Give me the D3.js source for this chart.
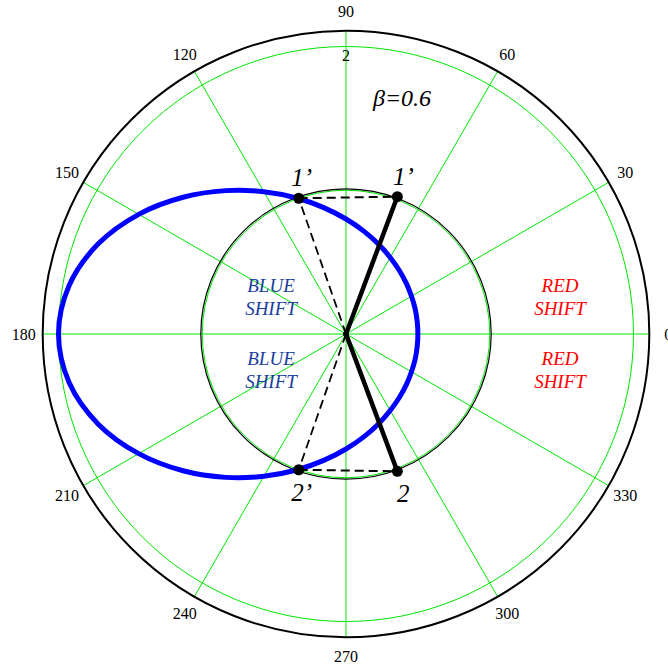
<!DOCTYPE html>
<html>
<head>
<meta charset="utf-8">
<script src="https://cdn.jsdelivr.net/npm/d3@7"></script>
<style>
  html, body { margin: 0; padding: 0; background: #fff; }
  svg { display: block; }
  text { font-family: "Liberation Serif", "Times New Roman", serif; }
</style>
</head>
<body>
<svg id="chart" width="668" height="672"></svg>
<script>
// Polar grid
const angleTicks = [0, 30, 60, 90, 120, 150, 180, 210, 240, 270, 300, 330];
const gridRadii = [1, 2];
const radialTickLabels = [2];
const outerRadius = 2.11;

// Blue emission curve: radius sampled every 10 degrees (0..350)
const curveAngles = [0, 10, 20, 30, 40, 50, 60, 70, 80, 90, 100, 110, 120, 130, 140, 150, 160, 170,
                     180, 190, 200, 210, 220, 230, 240, 250, 260, 270, 280, 290, 300, 310, 320, 330, 340, 350];
const curveRadii  = [0.500, 0.503, 0.512, 0.526, 0.548, 0.577, 0.615, 0.664, 0.725, 0.800, 0.893, 1.007,
                     1.143, 1.302, 1.480, 1.665, 1.834, 1.955, 2.000, 1.955, 1.834, 1.665, 1.480, 1.302,
                     1.143, 1.007, 0.893, 0.800, 0.725, 0.664, 0.615, 0.577, 0.548, 0.526, 0.512, 0.503];

// Rest-frame directions (solid) and their aberrated counterparts (dashed)
const restPoints = [{ label: "1’", angle: 69.5, r: 1.02 }, { label: "2", angle: 290.5, r: 1.02 }];
const primePoints = [{ label: "2’", angle: 250.8, r: 1 }, { label: "1’", angle: 109.2, r: 1 }];

const betaLabel = "β=0.6";
const shiftLabels = [
  { lines: ["BLUE", "SHIFT"], color: "#1a3d9e", side: -1, pos: -1 },
  { lines: ["BLUE", "SHIFT"], color: "#1a3d9e", side: -1, pos: 1 },
  { lines: ["RED", "SHIFT"], color: "#ff0000", side: 1, pos: -1 },
  { lines: ["RED", "SHIFT"], color: "#ff0000", side: 1, pos: 1 }
];

const svg = d3.select("#chart");
const cx = 346, cy = 334;
const r = d3.scaleLinear().domain([0, 2]).range([0, 287.5]);
const g = svg.append("g").attr("transform", `translate(${cx},${cy})`);

const rad = a => a * Math.PI / 180;
const px = (a, rr) => r(rr) * Math.cos(rad(a));
const py = (a, rr) => -r(rr) * Math.sin(rad(a));

// green spokes
g.selectAll("line.spoke").data(angleTicks).join("line")
  .attr("x1", 0).attr("y1", 0)
  .attr("x2", d => px(d, outerRadius)).attr("y2", d => py(d, outerRadius))
  .attr("stroke", "#00e600").attr("stroke-width", 1);

// green circles
g.selectAll("circle.grid").data(gridRadii).join("circle")
  .attr("r", d => r(d)).attr("fill", "none")
  .attr("stroke", "#00e600").attr("stroke-width", 1);

// black outer circle
g.append("circle").attr("r", r(outerRadius)).attr("fill", "none")
  .attr("stroke", "#000").attr("stroke-width", 2);

// black unit circle
g.append("circle").attr("r", r(1.01)).attr("fill", "none")
  .attr("stroke", "#000").attr("stroke-width", 1.2);

// angle labels
g.selectAll("text.ang").data(angleTicks).join("text")
  .attr("x", d => (r(outerRadius) + 19) * Math.cos(rad(d)))
  .attr("y", d => -(r(outerRadius) + 19) * Math.sin(rad(d)))
  .attr("text-anchor", "middle").attr("dominant-baseline", "central")
  .attr("font-size", 16).text(d => d);

// radial tick label
g.selectAll("text.rt").data(radialTickLabels).join("text")
  .attr("x", 0).attr("y", d => -r(d) + 3)
  .attr("text-anchor", "middle").attr("dominant-baseline", "hanging")
  .attr("font-size", 16).text(d => d);

// blue curve
const line = d3.lineRadial()
  .angle(d => rad(90 - d[0]))
  .radius(d => r(d[1]))
  .curve(d3.curveCatmullRomClosed);
g.append("path")
  .datum(curveAngles.map((a, i) => [a, curveRadii[i]]))
  .attr("d", line).attr("fill", "none")
  .attr("stroke", "#0000ff").attr("stroke-width", 5).attr("stroke-linejoin", "round");

// dashed horizontal links between paired points
const pairs = [[primePoints[1], restPoints[0]], [primePoints[0], restPoints[1]]];
g.selectAll("line.pair").data(pairs).join("line")
  .attr("x1", d => px(d[0].angle, d[0].r)).attr("y1", d => py(d[0].angle, d[0].r))
  .attr("x2", d => px(d[1].angle, d[1].r)).attr("y2", d => py(d[1].angle, d[1].r))
  .attr("stroke", "#000").attr("stroke-width", 2).attr("stroke-dasharray", "9,5");

// dashed rays to aberrated points
g.selectAll("line.prime").data(primePoints).join("line")
  .attr("x1", 0).attr("y1", 0)
  .attr("x2", d => px(d.angle, d.r)).attr("y2", d => py(d.angle, d.r))
  .attr("stroke", "#000").attr("stroke-width", 1.8).attr("stroke-dasharray", "9,5");

// solid rays to rest points
g.selectAll("line.rest").data(restPoints).join("line")
  .attr("x1", 0).attr("y1", 0)
  .attr("x2", d => px(d.angle, d.r)).attr("y2", d => py(d.angle, d.r))
  .attr("stroke", "#000").attr("stroke-width", 4.5).attr("stroke-linecap", "round");

// dots
const allPts = restPoints.concat(primePoints);
g.selectAll("circle.pt").data(allPts).join("circle")
  .attr("cx", d => px(d.angle, d.r)).attr("cy", d => py(d.angle, d.r))
  .attr("r", 5.5).attr("fill", "#000");
g.append("circle").attr("r", 3).attr("fill", "#000");

// point labels
g.selectAll("text.pt").data(allPts).join("text")
  .attr("x", d => px(d.angle, d.r) + (Math.cos(rad(d.angle)) > 0 ? 6 : 3))
  .attr("y", d => py(d.angle, d.r) + (d.angle < 180 ? -12 : 31))
  .attr("text-anchor", "middle")
  .attr("font-size", 25).attr("font-style", "italic").text(d => d.label);

// beta label
g.append("text").attr("x", 56).attr("y", -236)
  .attr("text-anchor", "middle").attr("dominant-baseline", "central")
  .attr("font-size", 24).attr("font-style", "italic").text(betaLabel);

// shift labels
shiftLabels.forEach(s => {
  const x = s.side < 0 ? -75 : 214;
  const y0 = s.pos < 0 ? -49 : 24;
  s.lines.forEach((t, i) => {
    g.append("text").attr("x", x).attr("y", y0 + i * 23)
      .attr("text-anchor", "middle").attr("dominant-baseline", "central")
      .attr("font-size", 19).attr("font-style", "italic")
      .attr("fill", s.color).text(t);
  });
});
</script>
</body>
</html>
